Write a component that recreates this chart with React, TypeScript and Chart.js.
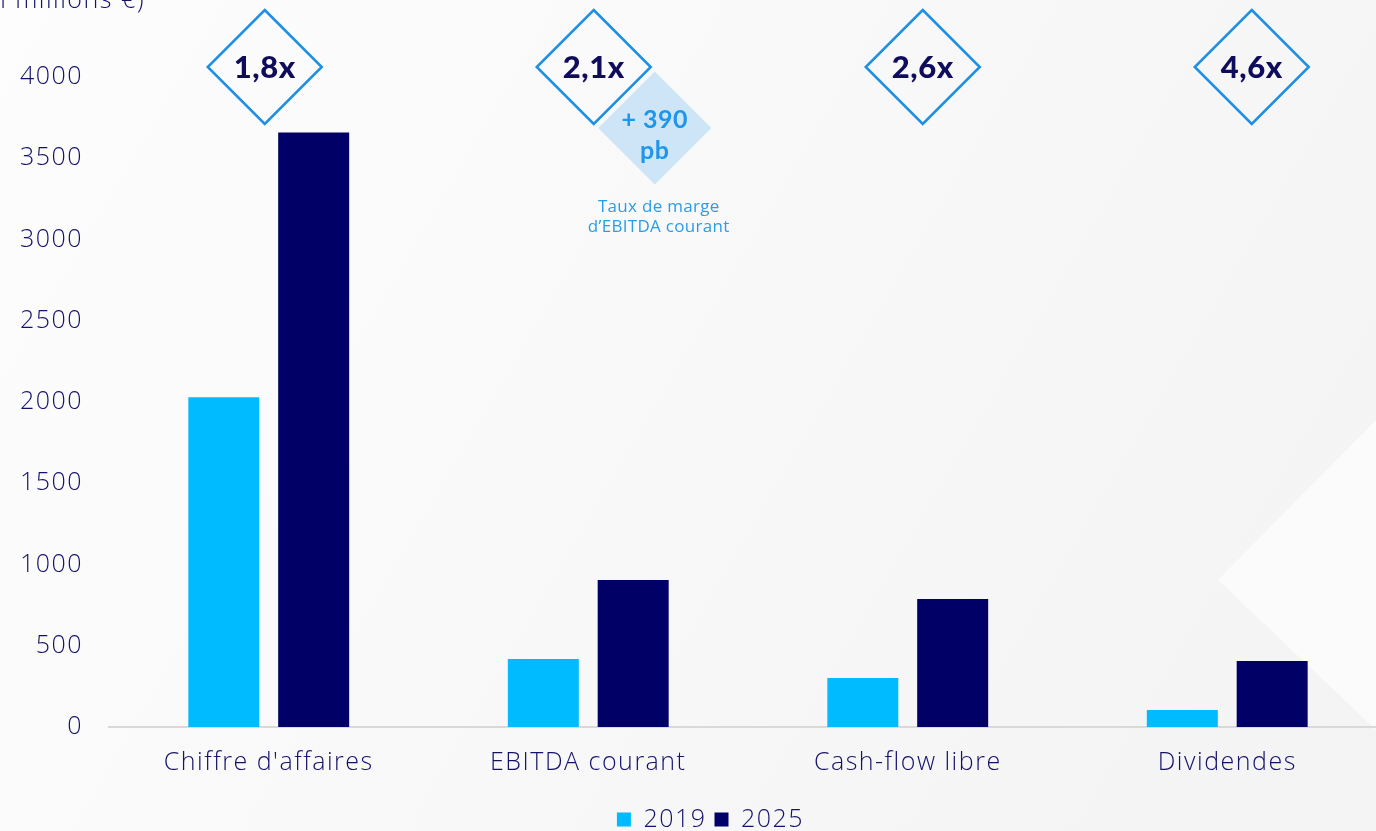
import React, { useEffect, useRef } from "react";
import { Chart, registerables } from "chart.js";

Chart.register(...registerables);

const categories = ["Chiffre d'affaires", "EBITDA courant", "Cash-flow libre", "Dividendes"];
const values2019 = [2030, 418, 301, 105];
const values2025 = [3659, 904, 787, 406];
const seriesLabels = ["2019", "2025"];
const multiples = ["1,8x", "2,1x", "2,6x", "4,6x"];
const badgeLines = ["+ 390", "pb"];
const noteLines = ["Taux de marge", "d\u2019EBITDA courant"];
const axisTitle = "(en millions \u20ac)";
const yMax = 4000;
const yStep = 500;

const NAVY = "#000066";
const CYAN = "#00bbff";
const TEXT = "#14116a";
const FONT = "'Open Sans', Lato, sans-serif";
const BOLD = "Lato, 'Open Sans', sans-serif";
const SPACING = "1.5px";

const annotationsPlugin = {
  id: "annotations",
  beforeUpdate(chart: any) {
    chart.ctx.letterSpacing = SPACING;
  },
  afterLayout(chart: any) {
    if (chart.legend) {
      chart.legend.left += 17;
      chart.legend.right += 17;
    }
  },
  beforeDraw(chart: any) {
    const { ctx, width, height } = chart;
    ctx.letterSpacing = SPACING;
    ctx.save();
    const g = ctx.createLinearGradient(0, 0, width, height);
    g.addColorStop(0, "#fdfdfd");
    g.addColorStop(0.5, "#f8f8f8");
    g.addColorStop(1, "#f3f3f3");
    ctx.fillStyle = g;
    ctx.fillRect(0, 0, width, height);
    ctx.fillStyle = "rgba(255,255,255,0.6)";
    ctx.beginPath();
    ctx.moveTo(1218, 580);
    ctx.lineTo(1376, 420);
    ctx.lineTo(1376, 730);
    ctx.closePath();
    ctx.fill();
    ctx.restore();
  },
  afterDraw(chart: any) {
    const { ctx } = chart;
    const xs = chart.scales.x;
    ctx.save();
    ctx.font = `300 25px ${FONT}`;
    ctx.fillStyle = TEXT;
    ctx.textAlign = "right";
    ctx.textBaseline = "alphabetic";
    ctx.fillText(axisTitle, 145, 8);

    const half = 57;
    const cy = 67;
    multiples.forEach((m, i) => {
      const cx = xs.getPixelForValue(i) - 4 + i * 9.5;
      if (i === 1) {
        const bx = cx + 61;
        const by = cy + 61;
        const h2 = 56.5;
        ctx.fillStyle = "#cde5f6";
        ctx.beginPath();
        ctx.moveTo(bx, by - h2);
        ctx.lineTo(bx + h2, by);
        ctx.lineTo(bx, by + h2);
        ctx.lineTo(bx - h2, by);
        ctx.closePath();
        ctx.fill();
        ctx.letterSpacing = "0.5px";
        ctx.fillStyle = "#1e96ea";
        ctx.font = `bold 25px ${BOLD}`;
        ctx.textAlign = "center";
        ctx.textBaseline = "middle";
        ctx.fillText(badgeLines[0], bx, by - 8);
        ctx.fillText(badgeLines[1], bx, by + 23);
        ctx.letterSpacing = "0.3px";
        ctx.font = `17px ${FONT}`;
        ctx.fillStyle = "#2a9de8";
        ctx.fillText(noteLines[0], bx + 4, 207);
        ctx.fillText(noteLines[1], bx + 4, 227);
      }
      ctx.strokeStyle = "#1e8fe6";
      ctx.lineWidth = 2.5;
      ctx.beginPath();
      ctx.moveTo(cx, cy - half);
      ctx.lineTo(cx + half, cy);
      ctx.lineTo(cx, cy + half);
      ctx.lineTo(cx - half, cy);
      ctx.closePath();
      ctx.stroke();
      ctx.letterSpacing = "0.5px";
      ctx.fillStyle = "#0f0c5c";
      ctx.font = `900 31px ${BOLD}`;
      ctx.textAlign = "center";
      ctx.textBaseline = "middle";
      ctx.fillText(m, cx, cy + 1);
    });
    ctx.restore();
  },
};

export default function App() {
  const ref = useRef<HTMLCanvasElement | null>(null);
  useEffect(() => {
    if (!ref.current) return;
    const chart = new Chart(ref.current, {
      type: "bar",
      data: {
        labels: categories,
        datasets: [
          { label: seriesLabels[0], data: values2019, backgroundColor: CYAN, borderWidth: 0 },
          { label: seriesLabels[1], data: values2025, backgroundColor: NAVY, borderWidth: 0 },
        ],
      },
      options: {
        animation: false,
        responsive: false,
        maintainAspectRatio: false,
        layout: { padding: { top: 77, right: 33, left: 0, bottom: -11 } },
        datasets: { bar: { categoryPercentage: 0.5625, barPercentage: 0.79 } },
        scales: {
          x: {
            grid: { display: false, drawTicks: false },
            border: { display: true, color: "#d9d9d9", width: 2 },
            ticks: { color: TEXT, font: { family: FONT, size: 25, weight: "300" }, padding: 21 },
          },
          y: {
            min: 0,
            max: yMax,
            grid: { display: false, drawTicks: false },
            border: { display: false },
            ticks: {
              stepSize: yStep,
              color: TEXT,
              font: { family: FONT, size: 25, weight: "300" },
              padding: 26,
              callback: (v: any) => String(v),
            },
            afterFit: (s: any) => { s.width = 109; },
          },
        },
        plugins: {
          tooltip: { enabled: false },
          legend: {
            position: "bottom",
            labels: {
              color: TEXT,
              font: { family: FONT, size: 25, weight: "300" },
              boxWidth: 14,
              boxHeight: 14,
              padding: 8,
            },
          },
        },
      },
      plugins: [annotationsPlugin],
    } as any);
    return () => chart.destroy();
  }, []);
  return (
    <div style={{ position: "fixed", left: 0, top: 0, width: 1376, height: 831, overflow: "hidden" }}>
      <canvas ref={ref} width={1420} height={831} style={{ display: "block", width: 1420, height: 831 }} />
    </div>
  );
}
